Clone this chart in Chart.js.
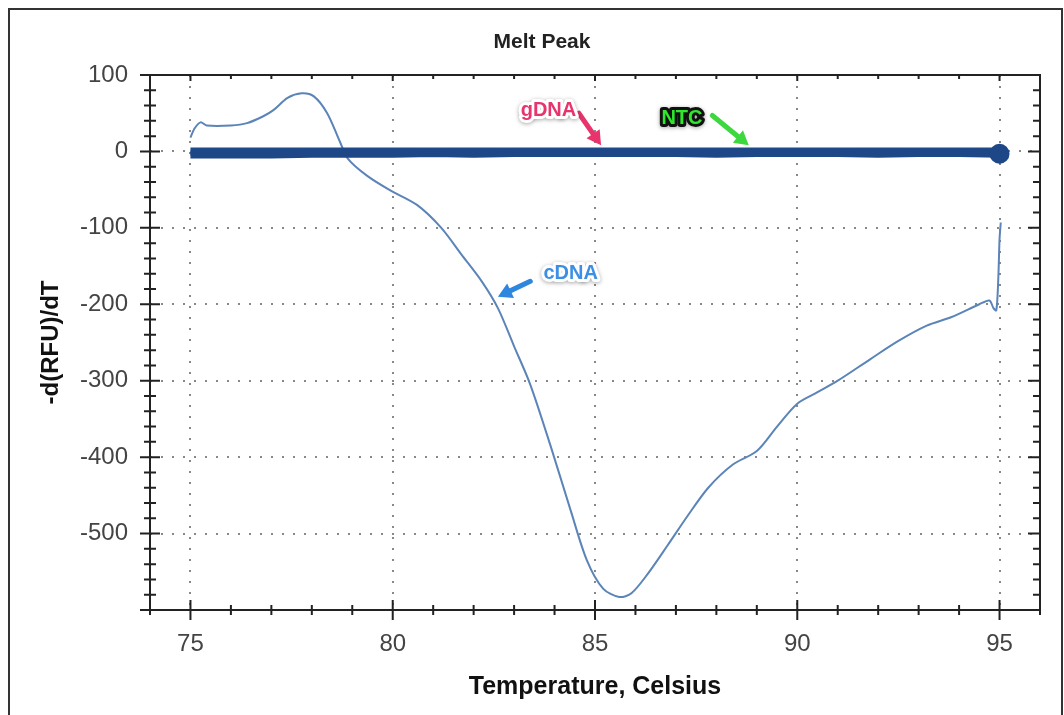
<!DOCTYPE html>
<html>
<head>
<meta charset="utf-8">
<script src="https://cdn.jsdelivr.net/npm/chart.js@4"></script>
<style>
    html, body { margin: 0; padding: 0; background: #fff; }
    #wrap { width: 1064px; height: 715px; position: relative; }
</style>
</head>
<body>
<div id="wrap"><canvas id="chart-wrapper"></canvas></div>
<script>
// cDNA melt curve
const cdnaTemps = [75.0, 75.1, 75.25, 75.4, 76.0, 76.4, 76.8, 77.05, 77.4, 77.75, 78.05, 78.38, 78.7, 78.9, 79.37, 79.94,
    80.6, 81.2, 81.7, 82.2, 82.6, 83.0, 83.4, 83.9, 84.4, 84.8, 85.2, 85.6, 85.9, 86.3, 86.8, 87.3, 87.8, 88.4, 89.0,
    89.5, 90.0, 90.5, 91.0, 91.8, 92.5, 93.2, 93.8, 94.5, 94.75, 94.85, 94.92, 94.97, 95.0, 95.03];
const cdnaValues = [18, 30, 38, 34, 34, 37, 46, 54, 70, 76, 72, 50, 12, -10, -32, -51,
    -70, -100, -135, -170, -205, -255, -305, -385, -470, -535, -572, -583, -578, -553, -515, -476, -440, -410, -392,
    -360, -330, -315, -300, -272, -248, -228, -217, -200, -195, -205, -208, -165, -115, -93];

// gDNA and NTC sit flat on zero
const flatTemps = [75, 76, 77, 78, 79, 80, 81, 82, 83, 84, 85, 86, 87, 88, 89, 90, 91, 92, 93, 94, 95];
const gdnaValues = [0, 0, 0, 0, 0, 0, 0, 0, 0, 0, 0, 0, 0, 0, 0, 0, 0, 0, 0, 0, 0];
const ntcValues = [-4, -4, -4, -3, -3, -3, -2, -3, -2, -2, -2, -2, -2, -3, -2, -2, -2, -3, -2, -2, -3];

const xTickLabels = [75, 80, 85, 90, 95];
const yTickLabels = [100, 0, -100, -200, -300, -400, -500];

// label, text colour, outline colour, arrow colour, text x/y, arrow tail x/y, arrow head x/y (data units)
const notes = [
    { text: 'gDNA', color: '#e8336d', outline: '#fff', arrow: '#e8336d', tx: 83.85, ty: 53, ax: 84.6, ay: 50, bx: 85.15, by: 8 },
    { text: 'NTC', color: '#2ee82e', outline: '#111', arrow: '#3dd83d', tx: 87.15, ty: 43, ax: 87.9, ay: 47, bx: 88.8, by: 8 },
    { text: 'cDNA', color: '#3b8fe4', outline: '#fff', arrow: '#2f86df', tx: 84.4, ty: -160, ax: 83.4, ay: -170, bx: 82.6, by: -190 }
];

const font = '"Liberation Sans", Arial, sans-serif';

function toPoints(xs, ys) {
    return xs.map((x, i) => ({ x: x, y: ys[i] }));
}

const frame = {
    id: 'frame',
    beforeDraw: (chart) => {
        const { ctx } = chart;
        ctx.save();
        ctx.strokeStyle = '#333';
        ctx.lineWidth = 2;
        ctx.strokeRect(9, 9, 1053, 720);
        ctx.fillStyle = '#222';
        ctx.font = 'bold 21px ' + font;
        ctx.textAlign = 'center';
        ctx.textBaseline = 'middle';
        ctx.fillText('Melt Peak', 542, 42);
        ctx.restore();
    },
    afterDatasetsDraw: (chart) => {
        const { ctx, chartArea } = chart;
        const xs = chart.scales.x;
        const ys = chart.scales.y;
        ctx.save();
        ctx.strokeStyle = '#222';
        ctx.lineWidth = 2;
        ctx.strokeRect(chartArea.left, chartArea.top, chartArea.right - chartArea.left, chartArea.bottom - chartArea.top);
        ctx.beginPath();
        xs.ticks.forEach(t => {
            const p = xs.getPixelForValue(t.value);
            const major = t.value % 5 === 0;
            const h = major ? 10 : 5;
            ctx.moveTo(p, chartArea.bottom - h);
            ctx.lineTo(p, chartArea.bottom + h);
            ctx.moveTo(p, chartArea.top);
            ctx.lineTo(p, chartArea.top + (major ? 6 : 4));
        });
        ys.ticks.forEach(t => {
            const p = ys.getPixelForValue(t.value);
            const major = t.value % 100 === 0;
            const h = major ? 10 : 6;
            ctx.moveTo(chartArea.left - h, p);
            ctx.lineTo(chartArea.left + h, p);
            ctx.moveTo(chartArea.right, p);
            ctx.lineTo(chartArea.right - (major ? 12 : 7), p);
        });
        ctx.stroke();

        // annotations
        notes.forEach(n => {
            const x1 = xs.getPixelForValue(n.ax), y1 = ys.getPixelForValue(n.ay);
            const x2 = xs.getPixelForValue(n.bx), y2 = ys.getPixelForValue(n.by);
            const ang = Math.atan2(y2 - y1, x2 - x1);
            ctx.strokeStyle = n.arrow;
            ctx.fillStyle = n.arrow;
            ctx.lineWidth = 5;
            ctx.lineCap = 'round';
            ctx.beginPath();
            ctx.moveTo(x1, y1);
            ctx.lineTo(x2 - 10 * Math.cos(ang), y2 - 10 * Math.sin(ang));
            ctx.stroke();
            ctx.beginPath();
            ctx.moveTo(x2, y2);
            ctx.lineTo(x2 - 14 * Math.cos(ang) + 8 * Math.sin(ang), y2 - 14 * Math.sin(ang) - 8 * Math.cos(ang));
            ctx.lineTo(x2 - 14 * Math.cos(ang) - 8 * Math.sin(ang), y2 - 14 * Math.sin(ang) + 8 * Math.cos(ang));
            ctx.closePath();
            ctx.fill();

            const tx = xs.getPixelForValue(n.tx), ty = ys.getPixelForValue(n.ty);
            ctx.font = 'bold 20px ' + font;
            ctx.textAlign = 'center';
            ctx.textBaseline = 'middle';
            ctx.lineJoin = 'round';
            ctx.shadowColor = 'rgba(0,0,0,0.35)';
            ctx.shadowBlur = 4;
            ctx.shadowOffsetY = 1;
            ctx.strokeStyle = n.outline;
            ctx.lineWidth = 6;
            ctx.strokeText(n.text, tx, ty);
            ctx.shadowColor = 'transparent';
            ctx.fillStyle = n.color;
            ctx.fillText(n.text, tx, ty);
        });
        ctx.restore();
    }
};

const ctx = document.getElementById('chart-wrapper');
const myChart = new Chart(ctx, {
    type: 'line',
    data: {
        datasets: [
            {
                label: 'NTC',
                data: toPoints(flatTemps, ntcValues),
                borderColor: '#1d4786',
                backgroundColor: '#1d4786',
                borderWidth: 8,
                pointRadius: (c) => c.dataIndex === flatTemps.length - 1 ? 6 : 0,
                tension: 0,
            },
            {
                label: 'gDNA',
                data: toPoints(flatTemps, gdnaValues),
                borderColor: '#1f4a8a',
                borderWidth: 8,
                pointRadius: 0,
                tension: 0,
            },
            {
                label: 'cDNA',
                data: toPoints(cdnaTemps, cdnaValues),
                borderColor: '#5b84b8',
                borderWidth: 2,
                pointRadius: 0,
                tension: 0.3,
            },
        ],
    },
    options: {
        responsive: true,
        maintainAspectRatio: false,
        animation: false,
        layout: { padding: { left: 0, right: 24, top: 75, bottom: 0 } },
        plugins: {
            legend: { display: false },
            tooltip: { enabled: false },
        },
        scales: {
            x: {
                type: 'linear',
                min: 74,
                max: 96,
                afterFit: (s) => { s.height = 105; },
                ticks: {
                    stepSize: 1,
                    autoSkip: false,
                    maxRotation: 0,
                    padding: 20,
                    color: '#444',
                    font: { family: font, size: 24 },
                    callback: (v) => xTickLabels.includes(v) ? String(v) : '',
                },
                grid: {
                    drawTicks: false,
                    color: (c) => c.tick && c.tick.value % 5 === 0 ? '#888' : 'transparent',
                    lineWidth: 2,
                },
                border: { display: false, dash: [2, 9] },
                title: {
                    display: true,
                    text: 'Temperature, Celsius',
                    color: '#111',
                    font: { family: font, size: 25, weight: 'bold' },
                    padding: { top: 4, bottom: 13 },
                },
            },
            y: {
                type: 'linear',
                min: -600,
                max: 100,
                afterFit: (s) => { s.width = 150; },
                ticks: {
                    stepSize: 20,
                    autoSkip: false,
                    padding: 22,
                    color: '#444',
                    font: { family: font, size: 24 },
                    callback: (v) => yTickLabels.includes(v) ? String(v) : '',
                },
                grid: {
                    drawTicks: false,
                    color: (c) => c.tick && c.tick.value % 100 === 0 ? '#888' : 'transparent',
                    lineWidth: 2,
                },
                border: { display: false, dash: [2, 9] },
                title: {
                    display: true,
                    text: '-d(RFU)/dT',
                    color: '#111',
                    font: { family: font, size: 24, weight: 'bold' },
                    padding: { top: 37, bottom: 0 },
                },
            },
        },
    },
    plugins: [frame],
});
</script>
</body>
</html>
